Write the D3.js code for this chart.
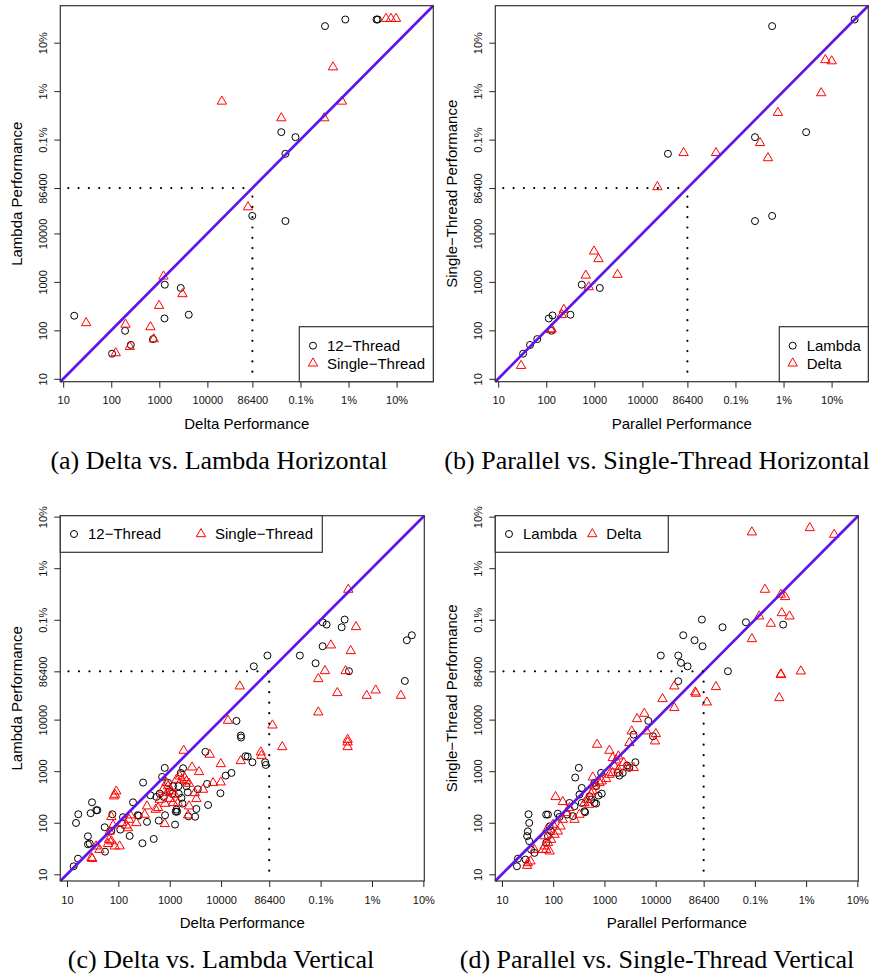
<!DOCTYPE html>
<html><head><meta charset="utf-8">
<script src="https://cdn.jsdelivr.net/npm/d3@7"></script>
<style>body{margin:0;background:#fff} svg{display:block}</style>
</head><body>
<svg id="chart" width="870" height="978"></svg>
<script>
// ---------- tick values / labels (seconds; % of 864,000,000) ----------
const tickValues = [10, 100, 1000, 10000, 86400, 864000, 8640000, 86400000];
const tickLabels = ["10", "100", "1000", "10000", "86400", "0.1%", "1%", "10%"];

// ---------- (a) Delta vs. Lambda Horizontal : [delta, lambda] ----------
const aTwelveThread = [[2.8e6,1.9e8],[7.4e6,2.6e8],[3.3e7,2.6e8],[3.5e7,2.6e8],[3.45e5,1.23e6],[6.8e5,9.7e5],[4.2e5,4.4e5],[8.6e4,2.3e4],[4.2e5,1.8e4],[17,200],[194,98],[104,33],[255,50],[741,66],[1300,875],[1280,176],[2790,748],[4090,210]];
const aSingleThread = [[5.2e7,2.7e8],[6.6e7,2.7e8],[8.4e7,2.7e8],[4.1e6,2.7e7],[2.0e4,5.3e6],[6.3e6,5.3e6],[3.45e5,2.4e6],[2.7e6,2.4e6],[7.0e4,3.5e4],[30,142],[124,34],[198,132],[243,46],[655,117],[766,66],[988,322],[1220,1300],[3030,562]];

// ---------- (b) Parallel vs. Single-Thread Horizontal : [parallel, single] ----------
const bLambda = [[5.0e6,1.9e8],[2.6e8,2.6e8],[3.4e4,4.4e5],[2.2e6,9.7e5],[2.55e7,1.23e6],[2.2e6,1.8e4],[5.0e6,2.3e4],[548,875],[1300,748],[319,210],[113,176],[135,203],[129,98],[65,66],[46,50],[33,33]];
const bDelta = [[6.4e7,3.8e7],[8.7e7,3.6e7],[5.25e7,7.9e6],[6.6e6,3.1e6],[2.8e6,7.4e5],[4.1e6,3.6e5],[7.2e4,4.6e5],[3.4e5,4.6e5],[2.05e4,9.1e4],[988,4270],[1220,2970],[664,1360],[3030,1410],[766,784],[232,267],[210,210],[129,106],[124,102],[30,18.6]];

// ---------- (c) Delta vs. Lambda Vertical : [delta, lambda] ----------
const cTwelveThread = [[4.33e4,1.08e5],[7.98e4,1.75e5],[3.41e5,1.75e5],[6.9e5,1.24e5],[9.46e5,2.65e5],[9.46e5,7.73e5],[1.13e6,6.97e5],[2.22e6,6.19e5],[2.54e6,8.71e5],[3.08e6,8.67e4],[3.77e7,5.62e4],[4.12e7,3.46e5],[5.15e7,4.33e5],
[1.99e4,9440],[2.42e4,4910],[2.45e4,4490],[2.98e4,1950],[3.3e4,1920],[4.07e4,1490],[7.19e4,1490],[7.41e4,1320],[4950,2370],[1.59e4,925],[1.23e4,822],[9700,373],[5580,221],[3300,185],[3120,131],[2310,133],[800,1156],[710,774],[1820,1140],[1640,925],[303,601],[420,341],[193,249],[30.7,249],[16.6,146],[15,99],[28.9,153],[37.2,175],[39,175],[76.4,146],[123,128],[238,140],[249,137],[361,104],[611,110],[811,140],[1270,92],[1310,164],[1390,164],[1770,235],[54.2,81.7],[73.1,69.3],[109,73.6],[166,55.5],[25.6,54.6],[27.7,39.4],[25.6,38.2],[55,27.5],[294,40],[488,48.5],[16.4,20.1],[13.5,14.3],
[1160,511],[1480,511],[1130,367],[1500,367],[2110,511],[3510,446],[5330,566],[2240,390],[764,317],[550,317],[638,367],[1000,407],[1690,303],[1350,180],[929,592]];
const cSingleThread = [[2.99e6,3.33e6],[4.23e6,6.28e5],[1.37e6,2.77e5],[3.33e6,2.15e5],[1.05e6,8.79e4],[2.65e6,8.79e4],[7.78e5,6.15e4],[2.31e4,4.44e4],[1.83e6,3.3e4],[6.82e6,2.92e4],[1.02e7,3.71e4],[3.15e7,2.92e4],[7.78e5,1.39e4],[1.0e5,7760],[1.55e5,2950],[2.9e6,4090],[2.9e6,3640],[2.9e6,2950],[1.36e4,9570],[2.41e4,1580],[5.92e4,2330],[6.1e4,2000],
[1870,2510],[6010,2100],[9860,1380],[2720,1190],[3720,968],[9860,610],[6980,592],[4460,440],[3070,378],[3300,290],[2380,209],[2280,140],
[1570,798],[1960,740],[1710,687],[2110,638],[1350,687],[2380,574],
[861,592],[929,511],[741,440],[1080,407],[1250,352],[1000,290],[638,281],[811,235],[593,194],[1160,242],[1450,242],[887,378],
[361,209],[533,180],[326,144],[224,99],[161,115],[171,140],[118,99],[143,89],[154,79],[73,130],[79,89],[91,407],[86,352],[82,327],[800,95],[68,68],[66,47],[73,44],[63,39],[85,35],[106,35],[37,35],[43,30],[30,21],[31,20]];

// ---------- (d) Parallel vs. Single-Thread Vertical : [parallel, single] ----------
const dLambda = [[7.98e4,8.71e5],[2.02e5,6.19e5],[5.77e5,7.73e5],[3.08e6,6.97e5],[3.45e4,4.33e5],[5.74e4,3.46e5],[8.22e4,2.65e5],[1.26e4,1.75e5],[2.76e4,1.75e5],[3.11e4,1.26e5],[4.2e4,1.08e5],[2.57e5,8.67e4],[2.76e4,5.55e4],
[7190,9440],[8870,4760],[3710,5120],[4020,1490],[316,1160],[269,752],[2770,1290],[3070,1160],[1960,822],[861,925],[638,592],[689,511],[887,367],[764,337],[511,327],[550,281],[638,242],[689,235],[326,352],[361,242],[407,167],[420,160],[208,242],[261,209],[242,134],[188,144],[123,150],[133,130],[79,144],[73,144],[85,85],[91,68],[79,55],[73,41],[33,146],[34,99],[32,68],[31,55],[34,44],[37,30],[43,26],[20.5,20.1],[19.6,14.3],[28.9,19.3],[361,473],[2280,925],[1820,925]];
const dDelta = [[7.55e5,4.31e7],[1.02e7,5.22e7],[3.05e7,3.88e7],[1.36e6,3.33e6],[2.78e6,2.67e6],[3.37e6,2.4e6],[1.05e6,1.01e6],[2.9e6,1.17e6],[4.1e6,1.01e6],[1.77e6,7.29e5],[7.55e5,3.67e5],[2.78e6,7.59e4],[2.78e6,7.36e4],[6.82e6,8.67e4],[2.58e6,2.63e4],[2.31e4,4.44e4],[1.5e5,4.31e4],[5.92e4,3.4e4],[6.1e4,3.2e4],[1.36e4,2.52e4],[1.0e5,2.17e4],[2.31e4,1.69e4],
[6010,1.31e4],[4330,1.03e4],[3400,5960],[1.01e4,5280],[9700,3810],[6580,5960],[3070,3540],[719,3280],[1250,2510],[1450,1810],[1690,1630],[1870,1950],[2380,1450],[2770,1190],[3720,1160],
[1570,1250],[1870,1070],[1450,925],[1250,859],[1080,708],[887,638],[800,592],[638,511],[593,408],[550,367],[459,281],[407,242],[593,762],[111,317],[154,254],[179,155],[154,115],[139,85],[123,68],[106,59],[99,92],[76,74],[68,55],[91,47],[79,41],[68,35],[73,30],[85,28],[63,30],[43,30],[32,16.6],[36,17.9],[31,14.7],[261,115],[326,144],[511,225],[208,194]];

// ---------- drawing ----------
const svg = d3.select("#chart");
const SANS = "'Liberation Sans', Arial, Helvetica, sans-serif";
const SERIF = "'Liberation Serif', 'Times New Roman', serif";
const LINE = "#6014e8";
const tri = d3.symbol().type(d3.symbolTriangle).size(38);

function drawCircle(g, cx, cy) {
  g.append("circle").attr("cx", cx).attr("cy", cy).attr("r", 3.5)
    .attr("fill", "none").attr("stroke", "#000").attr("stroke-width", 1);
}
function drawTri(g, cx, cy) {
  g.append("path").attr("d", tri).attr("transform", `translate(${cx},${cy})`)
    .attr("fill", "none").attr("stroke", "#f00").attr("stroke-width", 1);
}

function panel(p) {
  const g = svg.append("g");
  const x = d3.scaleLog().domain(p.domain).range([p.left, p.right]);
  const y = d3.scaleLog().domain(p.domain).range([p.bottom, p.top]);

  // points
  p.series.forEach(s => {
    s.data.forEach(d => {
      if (s.shape === "circle") drawCircle(g, x(d[0]), y(d[1]));
      else drawTri(g, x(d[0]), y(d[1]));
    });
  });

  // diagonal y = x
  g.append("line")
    .attr("x1", x(p.domain[0])).attr("y1", y(p.domain[0]))
    .attr("x2", x(p.domain[1])).attr("y2", y(p.domain[1]))
    .attr("stroke", LINE).attr("stroke-width", 2.7);

  // dotted guide lines at 86400
  g.append("line")
    .attr("x1", x(10)).attr("y1", y(86400)).attr("x2", x(86400)).attr("y2", y(86400))
    .attr("stroke", "#000").attr("stroke-width", 2.2).attr("stroke-linecap", "round")
    .attr("stroke-dasharray", `0.01,${p.dot - 0.01}`).attr("stroke-dashoffset", p.dot - p.hOff);
  g.append("line")
    .attr("x1", x(86400)).attr("y1", y(10)).attr("x2", x(86400)).attr("y2", y(86400))
    .attr("stroke", "#000").attr("stroke-width", 2.2).attr("stroke-linecap", "round")
    .attr("stroke-dasharray", `0.01,${p.dot - 0.01}`).attr("stroke-dashoffset", p.dot - p.vOff);

  // axes
  const xa = g.append("g").attr("transform", `translate(0,${p.bottom})`)
    .call(d3.axisBottom(x).tickValues(tickValues).tickFormat((d, i) => tickLabels[i])
      .tickSize(6).tickSizeOuter(0).tickPadding(p.tickPad));
  xa.select(".domain").remove();
  xa.selectAll("line").attr("stroke", "#222");
  xa.selectAll("text").attr("font-family", SANS).attr("font-size", 11).attr("fill", "#111");

  const ya = g.append("g").attr("transform", `translate(${p.left},0)`)
    .call(d3.axisLeft(y).tickValues(tickValues).tickFormat((d, i) => tickLabels[i])
      .tickSize(6).tickSizeOuter(0));
  ya.select(".domain").remove();
  ya.selectAll("line").attr("stroke", "#222");
  ya.selectAll("text").attr("x", null).attr("dy", null)
    .attr("transform", `translate(-13.6,0) rotate(-90)`)
    .attr("text-anchor", "middle")
    .attr("font-family", SANS).attr("font-size", 11).attr("fill", "#111");

  // box
  g.append("rect").attr("x", p.left).attr("y", p.top)
    .attr("width", p.right - p.left).attr("height", p.bottom - p.top)
    .attr("fill", "none").attr("stroke", "#333").attr("stroke-width", 1.2);

  // axis titles
  g.append("text").attr("x", (p.left + p.right) / 2).attr("y", p.xTitleY)
    .attr("text-anchor", "middle").attr("font-family", SANS).attr("font-size", 15)
    .attr("fill", "#000").text(p.xTitle);
  g.append("text")
    .attr("transform", `translate(${p.left - 38.3},${(p.top + p.bottom) / 2}) rotate(-90)`)
    .attr("text-anchor", "middle").attr("font-family", SANS).attr("font-size", 15)
    .attr("fill", "#000").text(p.yTitle);

  // legend
  const L = p.legend;
  g.append("rect").attr("x", L.x0).attr("y", L.y0).attr("width", L.x1 - L.x0).attr("height", L.y1 - L.y0)
    .attr("fill", "#fff").attr("stroke", "#333").attr("stroke-width", 1.2);
  L.items.forEach((it, i) => {
    if (p.series[i].shape === "circle") drawCircle(g, it[0], it[1]);
    else drawTri(g, it[0], it[1]);
    g.append("text").attr("x", it[0] + 14).attr("y", it[1] + 5.4)
      .attr("font-family", SANS).attr("font-size", 15).attr("fill", "#000").text(p.series[i].name);
  });

  // caption
  svg.append("text").attr("x", p.capX).attr("y", p.capY).attr("text-anchor", "middle")
    .attr("font-family", SERIF).attr("font-size", 26).attr("fill", "#000").text(p.caption);
}

const domTop = [Math.pow(10, 0.94), Math.pow(10, 8.70)];
const domBot = [Math.pow(10, 0.87), Math.pow(10, 7.955)];

panel({
  left: 60.3, right: 433.3, top: 5.7, bottom: 381.7, domain: domTop, tickPad: 8.5,
  dot: 10.3, hOff: 5.1, vOff: 7.1, xTitleY: 428.5,
  series: [{name: "12\u2212Thread", shape: "circle", data: aTwelveThread},
           {name: "Single\u2212Thread", shape: "tri", data: aSingleThread}],
  legend: {x0: 299.3, y0: 326.7, x1: 433.3, y1: 381.7, items: [[313, 345.7], [313, 363.3]]},
  xTitle: "Delta Performance", yTitle: "Lambda Performance",
  caption: "(a) Delta vs. Lambda Horizontal", capX: 219, capY: 469
});
panel({
  left: 495.3, right: 868.3, top: 5.7, bottom: 381.7, domain: domTop, tickPad: 8.5,
  dot: 10.3, hOff: 5.1, vOff: 7.1, xTitleY: 428.5,
  series: [{name: "Lambda", shape: "circle", data: bLambda},
           {name: "Delta", shape: "tri", data: bDelta}],
  legend: {x0: 779.3, y0: 326.7, x1: 868.3, y1: 381.7, items: [[792.7, 345.7], [792.7, 363.3]]},
  xTitle: "Parallel Performance", yTitle: "Single\u2212Thread Performance",
  caption: "(b) Parallel vs. Single-Thread Horizontal", capX: 657, capY: 469
});
panel({
  left: 60.3, right: 424.3, top: 515.7, bottom: 881, domain: domBot, tickPad: 9,
  dot: 10.5, hOff: 1.5, vOff: 3.6, xTitleY: 928,
  series: [{name: "12\u2212Thread", shape: "circle", data: cTwelveThread},
           {name: "Single\u2212Thread", shape: "tri", data: cSingleThread}],
  legend: {x0: 60.3, y0: 515.7, x1: 322.3, y1: 552.3, items: [[74, 534], [201, 534]]},
  xTitle: "Delta Performance", yTitle: "Lambda Performance",
  caption: "(c) Delta vs. Lambda Vertical", capX: 221, capY: 968
});
panel({
  left: 495.3, right: 858.3, top: 515.7, bottom: 881, domain: domBot, tickPad: 9,
  dot: 10.5, hOff: 1.5, vOff: 3.6, xTitleY: 928,
  series: [{name: "Lambda", shape: "circle", data: dLambda},
           {name: "Delta", shape: "tri", data: dDelta}],
  legend: {x0: 495.3, y0: 515.7, x1: 668.3, y1: 552.3, items: [[509, 534], [592.3, 534]]},
  xTitle: "Parallel Performance", yTitle: "Single\u2212Thread Performance",
  caption: "(d) Parallel vs. Single-Thread Vertical", capX: 657, capY: 968
});
</script>
</body></html>
